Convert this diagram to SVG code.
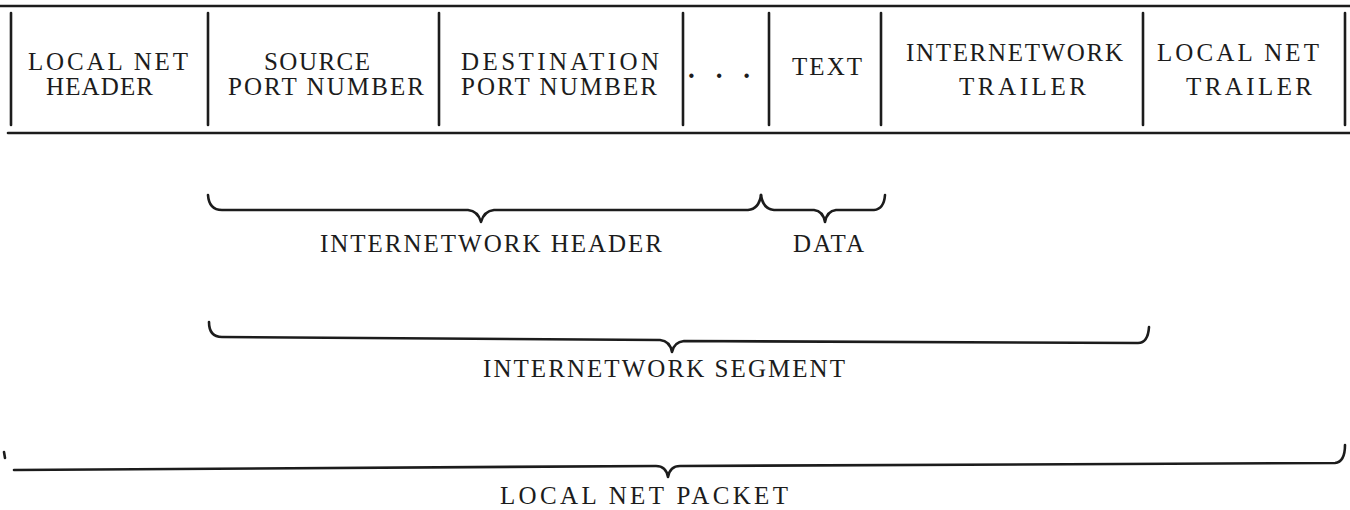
<svg xmlns="http://www.w3.org/2000/svg" width="1350" height="510" viewBox="0 0 1350 510">
<style>
.ln{stroke:#1c1c1c;stroke-width:2.6;fill:none;stroke-linecap:round}
.br{stroke:#1c1c1c;stroke-width:2.6;fill:none;stroke-linecap:round;stroke-linejoin:round}
text{font-family:"Liberation Serif","DejaVu Serif",serif;font-size:25px;fill:#1c1c1c}
.dots{font-weight:bold;font-size:27px}
</style>
<rect width="1350" height="510" fill="#ffffff"/>
<g id="table-frame">
<line class="ln" x1="0" y1="6" x2="1350" y2="6"/>
<line class="ln" x1="8" y1="133" x2="1350" y2="133"/>
<line class="ln" x1="11" y1="13" x2="11" y2="125"/>
<line class="ln" x1="208" y1="13" x2="208" y2="125"/>
<line class="ln" x1="439" y1="13" x2="439" y2="125"/>
<line class="ln" x1="683" y1="13" x2="683" y2="125"/>
<line class="ln" x1="769" y1="13" x2="769" y2="125"/>
<line class="ln" x1="881" y1="13" x2="881" y2="125"/>
<line class="ln" x1="1143" y1="13" x2="1143" y2="125"/>
<line class="ln" x1="1345" y1="13" x2="1345" y2="125"/>
</g>
<g id="cell-local-net-header">
<text x="28" y="70" textLength="160" lengthAdjust="spacing">LOCAL NET</text>
<text x="46" y="95" textLength="107" lengthAdjust="spacing">HEADER</text>
</g>
<g id="cell-source-port">
<text x="264" y="70" textLength="106" lengthAdjust="spacing">SOURCE</text>
<text x="228" y="95" textLength="196" lengthAdjust="spacing">PORT NUMBER</text>
</g>
<g id="cell-destination-port">
<text x="461" y="70" textLength="198" lengthAdjust="spacing">DESTINATION</text>
<text x="461" y="95" textLength="196" lengthAdjust="spacing">PORT NUMBER</text>
</g>
<g id="cell-ellipsis">
<text class="dots" x="688" y="78" textLength="62" lengthAdjust="spacing">...</text>
</g>
<g id="cell-text">
<text x="792" y="75" textLength="70" lengthAdjust="spacing">TEXT</text>
</g>
<g id="cell-internetwork-trailer">
<text x="906" y="61" textLength="217" lengthAdjust="spacing">INTERNETWORK</text>
<text x="959" y="95" textLength="127" lengthAdjust="spacing">TRAILER</text>
</g>
<g id="cell-local-net-trailer">
<text x="1157" y="61" textLength="162" lengthAdjust="spacing">LOCAL NET</text>
<text x="1186" y="95" textLength="126" lengthAdjust="spacing">TRAILER</text>
</g>
<g id="connectors">
<path id="brace-header" class="br" d="M208,195 Q209,210 222,210 L468,210 Q478,211 481,222 Q484,211 494,210 L748,210 Q759,209 761,195"/>
<path id="brace-data" class="br" d="M761,195 Q763,209 774,210 L814,210 Q823,211 825,222 Q827,211 836,210 L874,210 Q884,209 885,195"/>
<path id="brace-segment" class="br" d="M209,322 Q209,337 222,337 L660,340 Q670,341 672,352 Q674,342 684,341 L1138,343 Q1148,343 1149,327"/>
<path id="brace-packet-tick" class="br" d="M4,452 L5,458"/>
<path id="brace-packet" class="br" d="M14,470 L656,466 Q666,466 668,477 Q670,466 680,466 L1335,463 Q1345,462 1345,445"/>
</g>
<g id="label-internetwork-header">
<text x="320" y="252" textLength="342" lengthAdjust="spacing">INTERNETWORK HEADER</text>
</g>
<g id="label-data">
<text x="793" y="252" textLength="71" lengthAdjust="spacing">DATA</text>
</g>
<g id="label-internetwork-segment">
<text x="483" y="377" textLength="362" lengthAdjust="spacing">INTERNETWORK SEGMENT</text>
</g>
<g id="label-local-net-packet">
<text x="500" y="504" textLength="288" lengthAdjust="spacing">LOCAL NET PACKET</text>
</g>
</svg>
